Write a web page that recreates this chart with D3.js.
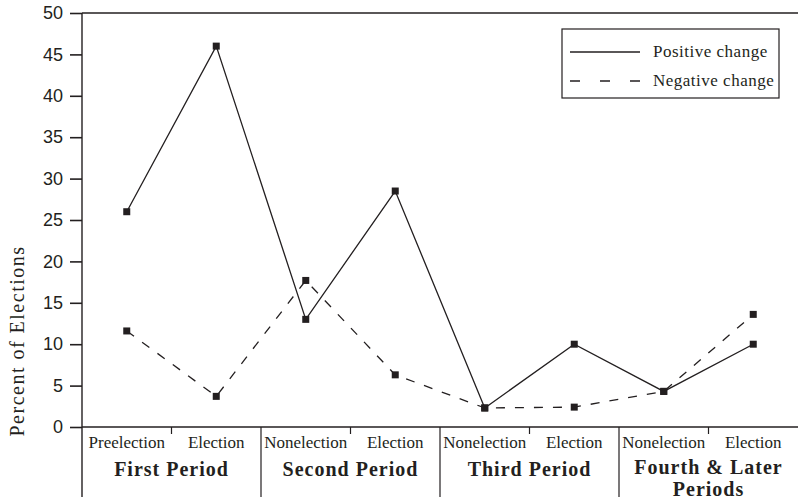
<!DOCTYPE html>
<html>
<head>
<meta charset="utf-8">
<script src="https://cdn.jsdelivr.net/npm/d3@7"></script>
<style>
  body { margin: 0; background: #fff; }
  svg text { fill: #231f20; }
</style>
</head>
<body>
<div id="chart"></div>
<script>
// categories
var subLabels = ["Preelection", "Election", "Nonelection", "Election",
                 "Nonelection", "Election", "Nonelection", "Election"];
var periods = [["First Period"], ["Second Period"], ["Third Period"], ["Fourth & Later", "Periods"]];

// series values (percent of elections)
var positive = [26, 46, 13, 28.5, 2.3, 10, 4.3, 10];
var negative = [11.6, 3.7, 17.7, 6.3, 2.3, 2.4, 4.3, 13.6];

// y ticks
var yTicks = [0, 5, 10, 15, 20, 25, 30, 35, 40, 45, 50];

var W = 798, H = 501;
var plotLeft = 82, plotRight = 798, plotTop = 13, plotBottom = 427, catBottom = 497;
var ink = "#231f20";
var serif = "Liberation Serif, Times New Roman, serif";

var svg = d3.select("#chart").append("svg")
    .attr("width", W)
    .attr("height", H);

var x = d3.scaleBand()
    .domain(d3.range(subLabels.length))
    .range([plotLeft, plotRight]);

var xp = d3.scaleBand()
    .domain(d3.range(periods.length))
    .range([plotLeft, plotRight]);

var y = d3.scaleLinear()
    .domain([0, 50])
    .range([plotBottom, plotTop]);

// y axis
var yAxis = svg.append("g")
    .attr("transform", "translate(" + plotLeft + ",0)")
    .call(d3.axisLeft(y).tickValues(yTicks).tickSize(12).tickPadding(7).tickSizeOuter(0));
yAxis.select(".domain").remove();
yAxis.selectAll("line").attr("stroke", ink).attr("stroke-width", 1.6);
yAxis.selectAll("text")
    .attr("font-family", "Liberation Sans, Arial, sans-serif")
    .attr("font-size", "18px")
    .style("fill", ink);

// frame: left axis down through category area, top line, baseline
svg.append("line")
    .attr("x1", plotLeft).attr("x2", plotLeft)
    .attr("y1", plotTop).attr("y2", catBottom)
    .attr("stroke", ink).attr("stroke-width", 1.4);
svg.append("line")
    .attr("x1", plotLeft).attr("x2", plotRight)
    .attr("y1", plotTop).attr("y2", plotTop)
    .attr("stroke", ink).attr("stroke-width", 1.4);
svg.append("line")
    .attr("x1", plotLeft).attr("x2", plotRight)
    .attr("y1", plotBottom).attr("y2", plotBottom)
    .attr("stroke", ink).attr("stroke-width", 1.4);

// period dividers
svg.selectAll(".divider")
    .data(d3.range(1, periods.length))
    .enter().append("line")
    .attr("class", "divider")
    .attr("x1", function(d){ return xp(d); })
    .attr("x2", function(d){ return xp(d); })
    .attr("y1", plotBottom).attr("y2", catBottom)
    .attr("stroke", ink).attr("stroke-width", 1.2);

// small ticks between sub categories
svg.selectAll(".subtick")
    .data(d3.range(periods.length))
    .enter().append("line")
    .attr("class", "subtick")
    .attr("x1", function(d){ return xp(d) + xp.bandwidth() / 2; })
    .attr("x2", function(d){ return xp(d) + xp.bandwidth() / 2; })
    .attr("y1", plotBottom).attr("y2", plotBottom + 7)
    .attr("stroke", ink).attr("stroke-width", 1.2);

// sub category labels
svg.selectAll(".sublabel")
    .data(subLabels)
    .enter().append("text")
    .attr("class", "sublabel")
    .attr("x", function(d, i){ return x(i) + x.bandwidth() / 2; })
    .attr("y", 448)
    .attr("text-anchor", "middle")
    .attr("font-family", serif)
    .attr("font-size", "17px")
    .text(function(d){ return d; });

// period labels
var pl = svg.selectAll(".period")
    .data(periods)
    .enter().append("text")
    .attr("class", "period")
    .attr("text-anchor", "middle")
    .attr("font-family", serif)
    .attr("font-weight", "bold")
    .attr("font-size", "20px")
    .attr("letter-spacing", "1px");
pl.selectAll("tspan")
    .data(function(d, i){ return d.map(function(t){ return { t: t, i: i, n: d.length }; }); })
    .enter().append("tspan")
    .attr("x", function(d){ return xp(d.i) + xp.bandwidth() / 2; })
    .attr("y", function(d, j){ return d.n > 1 ? 474 + j * 22 : 476; })
    .text(function(d){ return d.t; });

// y axis title
svg.append("text")
    .attr("transform", "translate(24,341) rotate(-90)")
    .attr("text-anchor", "middle")
    .attr("font-family", serif)
    .attr("font-size", "20px")
    .attr("letter-spacing", "1.5px")
    .text("Percent of Elections");

// lines
var line = d3.line()
    .x(function(d, i){ return x(i) + x.bandwidth() / 2; })
    .y(function(d){ return y(d); });

svg.append("path")
    .datum(negative)
    .attr("d", line)
    .attr("fill", "none")
    .attr("stroke", ink)
    .attr("stroke-width", 1.3)
    .attr("stroke-dasharray", "9,10");

svg.append("path")
    .datum(positive)
    .attr("d", line)
    .attr("fill", "none")
    .attr("stroke", ink)
    .attr("stroke-width", 1.3);

// markers
var ms = 7;
[positive, negative].forEach(function(series){
    svg.append("g").selectAll("rect")
        .data(series)
        .enter().append("rect")
        .attr("x", function(d, i){ return x(i) + x.bandwidth() / 2 - ms / 2; })
        .attr("y", function(d){ return y(d) - ms / 2; })
        .attr("width", ms)
        .attr("height", ms)
        .attr("fill", ink);
});

// legend
var legend = svg.append("g");
legend.append("rect")
    .attr("x", 562).attr("y", 29)
    .attr("width", 217).attr("height", 69)
    .attr("fill", "#fff")
    .attr("stroke", ink).attr("stroke-width", 1.2);
var items = [{ label: "Positive change", dash: null }, { label: "Negative change", dash: "10,20" }];
items.forEach(function(d, i){
    var yy = 52 + i * 29;
    legend.append("line")
        .attr("x1", 570).attr("x2", 640)
        .attr("y1", yy).attr("y2", yy)
        .attr("stroke", ink).attr("stroke-width", 1.3)
        .attr("stroke-dasharray", d.dash);
    legend.append("text")
        .attr("x", 653).attr("y", yy + 5)
        .attr("font-family", serif)
        .attr("font-size", "17px")
        .attr("letter-spacing", "0.5px")
        .text(d.label);
});
</script>
</body>
</html>
